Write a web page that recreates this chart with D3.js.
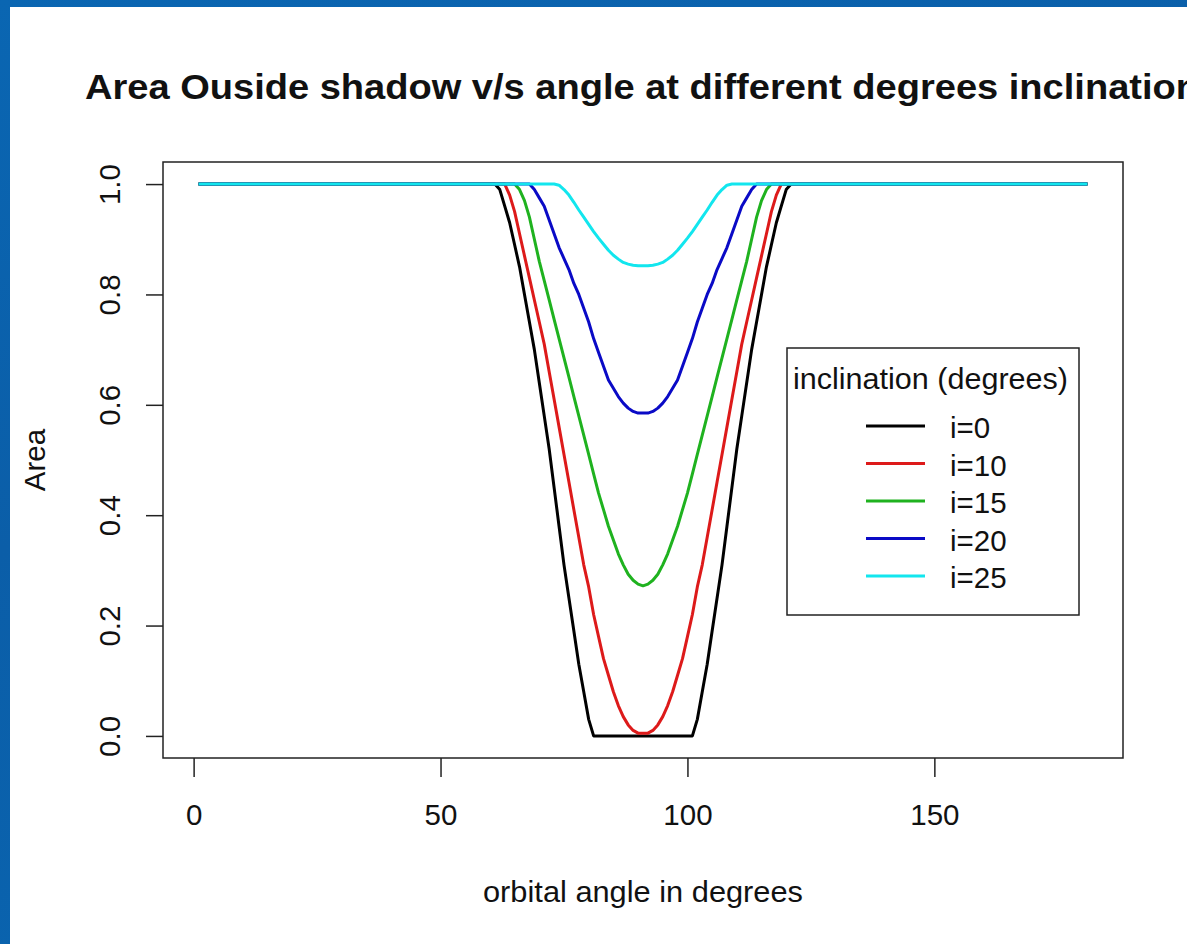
<!DOCTYPE html>
<html>
<head>
<meta charset="utf-8">
<script src="https://cdn.jsdelivr.net/npm/d3@7"></script>
<style>
  html, body { margin: 0; padding: 0; }
  body { width: 1187px; height: 944px; overflow: hidden;
         background: linear-gradient(160deg, #0a66b2 0%, #0b5ea8 40%, #0a63ae 70%, #085aa3 100%); }
  svg { position: absolute; left: 0; top: 0; }
  text { font-family: "Liberation Sans", Arial, sans-serif; fill: #111; }
</style>
</head>
<body>
<script>
// Fraction of area outside the shadow vs. orbital angle, one series per inclination
const seriesNames = ["i=0", "i=10", "i=15", "i=20", "i=25"];
const seriesColors = ["#000000", "#dd1a1a", "#1fb21f", "#0a0ac6", "#12e6ee"];

const area_i0 = [[1,1],[61,1],[62,0.99],[63,0.96],[64,0.93],[65,0.89],[66,0.85],[67,0.80],[68,0.75],[69,0.70],[70,0.64],
  [71,0.58],[72,0.52],[73,0.45],[74,0.38],[75,0.31],[76,0.25],[77,0.19],[78,0.13],[79,0.08],[80,0.03],[81,0],
  [101,0],[102,0.03],[103,0.08],[104,0.13],[105,0.19],[106,0.25],[107,0.31],[108,0.38],[109,0.45],[110,0.52],
  [111,0.58],[112,0.64],[113,0.70],[114,0.75],[115,0.80],[116,0.85],[117,0.89],[118,0.93],[119,0.96],[120,0.99],[121,1],[181,1]];

const area_i10 = [[1,1],[63,1],[64,0.98],[65,0.95],[66,0.91],[67,0.87],[68,0.83],[69,0.79],[70,0.75],[71,0.71],[72,0.66],
  [73,0.61],[74,0.56],[75,0.51],[76,0.46],[77,0.41],[78,0.36],[79,0.31],[80,0.27],[81,0.22],[82,0.18],[83,0.14],
  [84,0.11],[85,0.08],[86,0.055],[87,0.035],[88,0.02],[89,0.01],[90,0.005],[91,0.005],[92,0.005],[93,0.01],[94,0.02],
  [95,0.035],[96,0.055],[97,0.08],[98,0.11],[99,0.14],[100,0.18],[101,0.22],[102,0.27],[103,0.31],[104,0.36],[105,0.41],
  [106,0.46],[107,0.51],[108,0.56],[109,0.61],[110,0.66],[111,0.71],[112,0.75],[113,0.79],[114,0.83],[115,0.87],
  [116,0.91],[117,0.95],[118,0.98],[119,1],[181,1]];

const area_i15 = [[1,1],[65,1],[66,0.99],[67,0.97],[68,0.94],[69,0.90],[70,0.86],[71,0.825],[72,0.79],[73,0.755],[74,0.72],
  [75,0.685],[76,0.65],[77,0.615],[78,0.58],[79,0.545],[80,0.51],[81,0.475],[82,0.44],[83,0.41],[84,0.38],[85,0.355],
  [86,0.33],[87,0.31],[88,0.293],[89,0.282],[90,0.275],[91,0.272],[92,0.275],[93,0.282],[94,0.293],[95,0.31],[96,0.33],
  [97,0.355],[98,0.38],[99,0.41],[100,0.44],[101,0.475],[102,0.51],[103,0.545],[104,0.58],[105,0.615],[106,0.65],
  [107,0.685],[108,0.72],[109,0.755],[110,0.79],[111,0.825],[112,0.86],[113,0.90],[114,0.94],[115,0.97],[116,0.99],[117,1],[181,1]];

const area_i20 = [[1,1],[68,1],[69,0.99],[70,0.975],[71,0.96],[72,0.935],[73,0.91],[74,0.885],[75,0.865],[76,0.845],
  [77,0.82],[78,0.80],[79,0.775],[80,0.75],[81,0.72],[82,0.695],[83,0.67],[84,0.645],[85,0.63],[86,0.615],[87,0.603],
  [88,0.594],[89,0.588],[90,0.585],[91,0.585],[92,0.585],[93,0.588],[94,0.594],[95,0.603],[96,0.615],[97,0.63],[98,0.645],
  [99,0.67],[100,0.695],[101,0.72],[102,0.75],[103,0.775],[104,0.80],[105,0.82],[106,0.845],[107,0.865],[108,0.885],
  [109,0.91],[110,0.935],[111,0.96],[112,0.975],[113,0.99],[114,1],[181,1]];

const area_i25 = [[1,1],[73,1],[74,0.998],[75,0.99],[76,0.98],[77,0.967],[78,0.953],[79,0.94],[80,0.927],[81,0.914],
  [82,0.902],[83,0.891],[84,0.88],[85,0.871],[86,0.864],[87,0.858],[88,0.855],[89,0.853],[90,0.852],[91,0.852],
  [92,0.852],[93,0.853],[94,0.855],[95,0.858],[96,0.864],[97,0.871],[98,0.88],[99,0.891],[100,0.902],[101,0.914],
  [102,0.927],[103,0.94],[104,0.953],[105,0.967],[106,0.98],[107,0.99],[108,0.998],[109,1],[181,1]];

const seriesData = [area_i0, area_i10, area_i15, area_i20, area_i25];

const xTicks = [0, 50, 100, 150];
const yTicks = [0.0, 0.2, 0.4, 0.6, 0.8, 1.0];

const titleText = "Area Ouside shadow v/s angle at different degrees inclination";
const xLabel = "orbital angle in degrees";
const yLabel = "Area";
const legendTitle = "inclination (degrees)";

const W = 1187, H = 944;
const svg = d3.select("body").append("svg").attr("width", W).attr("height", H);

// white page area on top of the blue backdrop
svg.append("rect").attr("x", 10).attr("y", 7).attr("width", W - 10).attr("height", H - 7).attr("fill", "#ffffff");

// plot region (box) and scales with R-style 4% padding
const box = { left: 163, right: 1123, top: 162, bottom: 758 };
const x = d3.scaleLinear().domain([1 - 7.2, 181 + 7.2]).range([box.left, box.right]);
const y = d3.scaleLinear().domain([-0.04, 1.04]).range([box.bottom, box.top]);

// title (wide rendering, runs off the right edge of the page)
svg.append("text").attr("x", 85).attr("y", 99)
  .attr("font-size", 35.4).attr("font-weight", "bold")
  .attr("textLength", 1114).attr("lengthAdjust", "spacingAndGlyphs")
  .text(titleText);

// series lines
const line = d3.line().x(d => x(d[0])).y(d => y(d[1]));
seriesData.forEach((s, i) => {
  svg.append("path").datum(s).attr("d", line)
    .attr("fill", "none").attr("stroke", seriesColors[i])
    .attr("stroke-width", 3).attr("stroke-linejoin", "round");
});

// box
svg.append("rect").attr("x", box.left).attr("y", box.top)
  .attr("width", box.right - box.left).attr("height", box.bottom - box.top)
  .attr("fill", "none").attr("stroke", "#222").attr("stroke-width", 1.5);

// x axis
const xAxis = svg.append("g").attr("transform", `translate(0,${box.bottom})`)
  .call(d3.axisBottom(x).tickValues(xTicks).tickSize(19).tickPadding(27).tickFormat(d3.format("d")));
xAxis.select(".domain").attr("stroke", "none");
xAxis.selectAll(".tick line").attr("stroke", "#222").attr("stroke-width", 1.5);
xAxis.selectAll(".tick text").attr("font-size", 29.5).attr("fill", "#111")
  .attr("font-family", "Liberation Sans, Arial, sans-serif").attr("dy", "0.71em");

// y axis (labels rotated, reading upward)
const yAxis = svg.append("g").attr("transform", `translate(${box.left},0)`)
  .call(d3.axisLeft(y).tickValues(yTicks).tickSize(17).tickFormat(d3.format(".1f")));
yAxis.select(".domain").attr("stroke", "none");
yAxis.selectAll(".tick line").attr("stroke", "#222").attr("stroke-width", 1.5);
yAxis.selectAll(".tick text")
  .attr("x", null).attr("dy", null)
  .attr("transform", `translate(${120 - box.left},0) rotate(-90)`)
  .attr("text-anchor", "middle").attr("font-size", 29.5).attr("fill", "#111")
  .attr("font-family", "Liberation Sans, Arial, sans-serif");

// axis titles
svg.append("text").attr("x", (box.left + box.right) / 2).attr("y", 902)
  .attr("text-anchor", "middle").attr("font-size", 29.5)
  .attr("textLength", 320).attr("lengthAdjust", "spacingAndGlyphs").text(xLabel);
svg.append("text").attr("transform", `translate(45,${(box.top + box.bottom) / 2}) rotate(-90)`)
  .attr("text-anchor", "middle").attr("font-size", 29.5).text(yLabel);

// legend
const lg = { left: 787, top: 348, right: 1079, bottom: 615 };
svg.append("rect").attr("x", lg.left).attr("y", lg.top)
  .attr("width", lg.right - lg.left).attr("height", lg.bottom - lg.top)
  .attr("fill", "#fff").attr("stroke", "#222").attr("stroke-width", 1.5);
svg.append("text").attr("x", 930.5).attr("y", 389).attr("text-anchor", "middle")
  .attr("font-size", 29.5).attr("textLength", 275).attr("lengthAdjust", "spacingAndGlyphs")
  .text(legendTitle);
const rowY = d3.scaleLinear().domain([0, seriesNames.length - 1]).range([426, 576]);
seriesNames.forEach((name, i) => {
  svg.append("line").attr("x1", 866).attr("x2", 925).attr("y1", rowY(i)).attr("y2", rowY(i))
    .attr("stroke", seriesColors[i]).attr("stroke-width", 3);
  svg.append("text").attr("x", 950).attr("y", rowY(i) + 12).attr("font-size", 29.5).text(name);
});
</script>
</body>
</html>
